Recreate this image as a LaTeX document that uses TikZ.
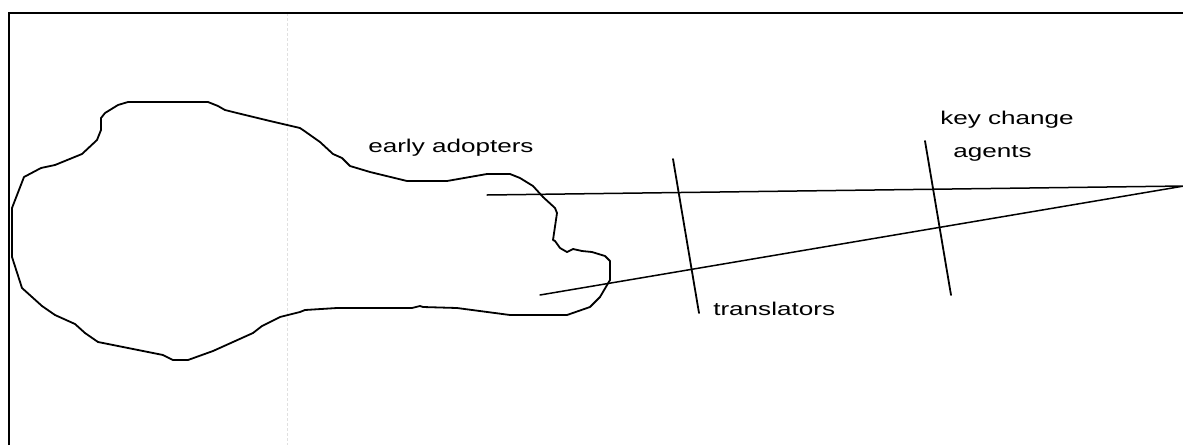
\documentclass[tikz,border=0pt]{standalone}
\usepackage{fontspec}
\setmainfont{Liberation Sans}
\tikzset{
  pen/.style={line width=1.8pt, line join=round, line cap=round},
  thinpen/.style={line width=1.5pt, line cap=round},
  frame/.style={line width=1.9pt},
  guide/.style={line width=0.8pt, draw=black!12, dash pattern=on 3pt off 2pt},
  lbl/.style={font=\fontsize{18.5}{20}\selectfont, inner sep=0pt, xscale=1.41, anchor=base west}
}
\begin{document}
\begin{tikzpicture}[x=1pt,y=-1pt]
\useasboundingbox (0,0) rectangle (1183,445);
% faint guide
\draw[guide] (287,13) -- (287,445);
% frame
\draw[frame] (9,445) -- (9,13) -- (1184,13);
% blob
\draw[pen] (24,177) -- (41,168) -- (55,165) -- (82,154) -- (97,140) -- (101,130) -- (101,118)
  -- (105,113) -- (118,105) -- (128,102) -- (208,102) -- (218,106) -- (225,110) -- (237,113)
  -- (270,121) -- (300,128) -- (303,130) -- (320,142) -- (333,154) -- (342,158) -- (350,166)
  -- (370,172) -- (407,181) -- (447,181) -- (487,174) -- (510,174) -- (520,178) -- (533,186)
  -- (543,197) -- (555,208) -- (557,213) -- (553,240) -- (555,241) -- (560,248) -- (567,252)
  -- (573,249) -- (582,251) -- (592,252) -- (605,256) -- (610,261) -- (610,280) -- (600,297)
  -- (590,307) -- (567,315) -- (510,315) -- (457,308) -- (423,307) -- (420,306) -- (412,308)
  -- (337,308) -- (305,310) -- (300,312) -- (280,317) -- (262,326) -- (253,333) -- (213,351)
  -- (188,360) -- (173,360) -- (163,355) -- (98,342) -- (85,333) -- (75,324) -- (55,315)
  -- (42,306) -- (22,288) -- (12,257) -- (12,208) -- cycle;
% coordinates
\coordinate (apex) at (1184,186);
\coordinate (a1) at (487,195);
\coordinate (a2) at (540,295);
\coordinate (t1) at (673,159);
\coordinate (t2) at (699,313);
\coordinate (k1) at (925,141);
\coordinate (k2) at (951,295);
\draw[thinpen] (a1) -- (apex) -- (a2);
\draw[pen] (t1) -- (t2);
\draw[pen] (k1) -- (k2);
% labels
\node[lbl] (early) at (368,152.5) {early adopters};
\node[lbl] (key) at (940,124) {key change};
\node[lbl] (agents) at (953,157) {agents};
\node[lbl] (trans) at (713,315) {translators};
\end{tikzpicture}
\end{document}
